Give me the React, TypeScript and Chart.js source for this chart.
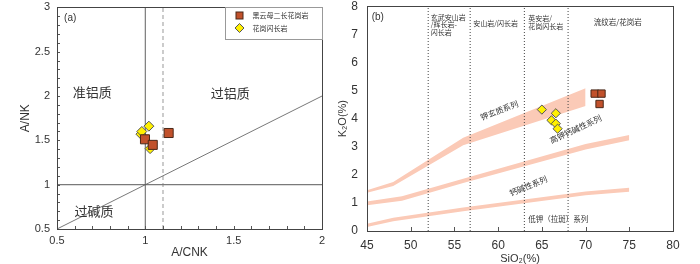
import React, { useEffect, useRef } from 'react';
import { Chart, registerables } from 'chart.js';
Chart.register(...registerables);

const CJK = '"Noto Sans CJK SC", "Noto Sans", sans-serif';
const SANS = '"Liberation Sans", Arial, sans-serif';
const TXT = '#333333';

// ---------- Panel (a): A/CNK vs A/NK ----------
const seriesNames = ['黑云母二长花岗岩', '花岗闪长岩'];
const aXRange = [0.5, 2];
const aYRange = [0.5, 3];
const aMinorStep = 0.1;
const aMonzoACNK = [0.998, 1.042, 1.132];
const aMonzoANK = [1.512, 1.449, 1.583];
const aGranoACNK = [0.975, 0.98, 1.02, 1.027];
const aGranoANK = [1.57, 1.6, 1.66, 1.407];
const aDiagonal = [0.5, 2]; // A/NK = A/CNK
const aSolidACNK = 1;
const aSolidANK = 1;
const aDashedACNK = 1.1;
const aLabels = [
  { t: ['(a)'], x: 0.54, y: 2.88, size: 10, align: 'left', font: SANS },
  { t: ['准铝质'], x: 0.70, y: 2.045, size: 13 },
  { t: ['过铝质'], x: 1.48, y: 2.03, size: 13 },
  { t: ['过碱质'], x: 0.71, y: 0.70, size: 13 },
];

// ---------- Panel (b): SiO2 vs K2O ----------
const bXRange = [45, 80];
const bYRange = [0, 8];
const bXStep = 5;
const bYStep = 1;
const bMonzoSiO2 = [71.04, 71.82, 71.6];
const bMonzoK2O = [4.89, 4.89, 4.52];
const bGranoSiO2 = [65.0, 66.6, 66.1, 66.6, 66.8];
const bGranoK2O = [4.32, 4.19, 3.94, 3.82, 3.64];
const bDivisions = [52, 56.8, 63, 68];
const band1X = [45, 48, 56, 70];
const band1Upper = [1.45, 1.74, 3.32, 5.08];
const band1Lower = [1.36, 1.6, 3.05, 4.45];
const band2X = [45, 49, 56, 70, 75];
const band2Upper = [1.05, 1.24, 1.86, 3.1, 3.42];
const band2Lower = [0.92, 1.08, 1.71, 2.9, 3.23];
const band3X = [45, 48, 56, 70, 75];
const band3Upper = [0.26, 0.47, 0.84, 1.41, 1.54];
const band3Lower = [0.14, 0.35, 0.7, 1.27, 1.4];
const bLabels = [
  { t: ['(b)'], x: 45.54, y: 7.61, size: 10, align: 'left', font: SANS },
  { t: ['玄武安山岩', '/辉长岩-', '闪长岩'], x: 52.28, y: 7.61, size: 7, align: 'left', lh: 0.265 },
  { t: ['安山岩/闪长岩'], x: 57.16, y: 7.39, size: 7, align: 'left' },
  { t: ['英安岩/', '花岗闪长岩'], x: 63.45, y: 7.58, size: 7, align: 'left', lh: 0.3 },
  { t: ['流纹岩/花岗岩'], x: 73.69, y: 7.44, size: 7.5 },
  { t: ['钾玄质系列'], x: 60.13, y: 4.29, size: 8, rot: -21 },
  { t: ['高钾钙碱性系列'], x: 68.87, y: 3.62, size: 8, rot: -25 },
  { t: ['钙碱性系列'], x: 63.45, y: 1.6, size: 8, rot: -22 },
  { t: ['低钾（拉斑）系列'], x: 66.88, y: 0.41, size: 7.5 },
];

const MONZO_FILL = '#c1512b';
const MONZO_EDGE = '#4a2818';
const GRANO_FILL = '#fff000';
const GRANO_EDGE = '#555555';
const BAND = '#fbcab7';

const pts = (xs: number[], ys: number[]) => xs.map((x, i) => ({ x, y: ys[i] }));

const textPlugin = (items: any[]) => ({
  id: 'textLabels',
  afterDatasetsDraw(chart: any) {
    const { ctx, scales } = chart;
    for (const l of items) {
      ctx.save();
      const px = scales.x.getPixelForValue(l.x);
      const py = scales.y.getPixelForValue(l.y);
      ctx.translate(px, py);
      ctx.rotate(((l.rot || 0) * Math.PI) / 180);
      ctx.font = `${l.size}px ${l.font || CJK}`;
      ctx.fillStyle = TXT;
      ctx.textAlign = l.align || 'center';
      ctx.textBaseline = 'middle';
      const step = l.lh ? scales.y.getPixelForValue(0) - scales.y.getPixelForValue(l.lh) : 0;
      l.t.forEach((s: string, i: number) => ctx.fillText(s, 0, i * step));
      ctx.restore();
    }
  },
});

const framePlugin = (tickLen: number, axes: string[]) => ({
  id: 'frameTicks',
  afterDatasetsDraw(chart: any) {
    const { ctx, chartArea: a, scales } = chart;
    ctx.save();
    ctx.strokeStyle = '#555';
    ctx.lineWidth = 1;
    ctx.beginPath();
    if (axes.includes('x')) {
      for (const t of scales.x.ticks) {
        const p = Math.round(scales.x.getPixelForValue(t.value)) + 0.5;
        ctx.moveTo(p, a.bottom);
        ctx.lineTo(p, a.bottom - tickLen);
      }
    }
    if (axes.includes('y')) {
      for (const t of scales.y.ticks) {
        const p = Math.round(scales.y.getPixelForValue(t.value)) + 0.5;
        ctx.moveTo(a.left, p);
        ctx.lineTo(a.left + tickLen, p);
      }
    }
    ctx.stroke();
    ctx.strokeStyle = '#444';
    ctx.strokeRect(Math.round(a.left) + 0.5, Math.round(a.top) + 0.5, Math.round(a.right - a.left), Math.round(a.bottom - a.top));
    ctx.restore();
  },
});

const legendPlugin = {
  id: 'boxLegend',
  afterDatasetsDraw(chart: any) {
    const { ctx, chartArea: a } = chart;
    const r = Math.round(a.right) + 0.5;
    const t = Math.round(a.top) + 0.5;
    const w = 97;
    const h = 32;
    ctx.save();
    ctx.fillStyle = '#fff';
    ctx.fillRect(r - w, t, w, h);
    ctx.strokeStyle = '#999';
    ctx.lineWidth = 1;
    ctx.strokeRect(r - w, t, w, h);
    // square
    const mx = r - 83;
    ctx.fillStyle = MONZO_FILL;
    ctx.strokeStyle = MONZO_EDGE;
    ctx.fillRect(mx - 3.5, t + 8 - 3.5, 7, 7);
    ctx.strokeRect(mx - 3.5, t + 8 - 3.5, 7, 7);
    // diamond
    const dy = t + 20.5;
    ctx.beginPath();
    ctx.moveTo(mx, dy - 4.5);
    ctx.lineTo(mx + 4.5, dy);
    ctx.lineTo(mx, dy + 4.5);
    ctx.lineTo(mx - 4.5, dy);
    ctx.closePath();
    ctx.fillStyle = GRANO_FILL;
    ctx.fill();
    ctx.strokeStyle = GRANO_EDGE;
    ctx.stroke();
    ctx.fillStyle = TXT;
    ctx.font = `7px ${CJK}`;
    ctx.textAlign = 'left';
    ctx.textBaseline = 'middle';
    ctx.fillText(chart.data.datasets[0].label, r - 70, t + 8);
    ctx.fillText(chart.data.datasets[1].label, r - 70, dy);
    ctx.restore();
  },
};

const lineDs = (data: any[], color: string, width: number, dash: number[] = [], order = 5) => ({
  type: 'line',
  data,
  borderColor: color,
  borderWidth: width,
  borderDash: dash,
  pointRadius: 0,
  fill: false,
  tension: 0,
  order,
});

const scatterDs = (label: string, data: any[], style: string, radius: number, fill: string, edge: string, order: number) => ({
  type: 'line',
  label,
  data,
  showLine: false,
  pointStyle: style,
  pointRadius: radius,
  pointBackgroundColor: fill,
  pointBorderColor: edge,
  pointBorderWidth: 1,
  order,
});

function makeChartA(canvas: HTMLCanvasElement) {
  const datasets: any[] = [
    scatterDs(seriesNames[0], pts(aMonzoACNK, aMonzoANK), 'rect', 6.4, MONZO_FILL, MONZO_EDGE, 0),
    scatterDs(seriesNames[1], pts(aGranoACNK, aGranoANK), 'rectRot', 5, GRANO_FILL, GRANO_EDGE, 1),
    lineDs(pts(aDiagonal, aDiagonal), '#555', 0.8),
    lineDs([{ x: aSolidACNK, y: aYRange[0] }, { x: aSolidACNK, y: aYRange[1] }], '#7a7a7a', 1.2),
    lineDs([{ x: aXRange[0], y: aSolidANK }, { x: aXRange[1], y: aSolidANK }], '#7a7a7a', 1.2),
    lineDs([{ x: aDashedACNK, y: aYRange[0] }, { x: aDashedACNK, y: aYRange[1] }], '#b0b0b0', 1.3, [4, 3]),
  ];
  const isMajor = (v: number) => Math.abs(v * 2 - Math.round(v * 2)) < 1e-6;
  return new Chart(canvas, {
    type: 'line',
    data: { datasets },
    options: {
      animation: false,
      responsive: false,
      layout: { padding: { left: 0, right: 14, top: 5, bottom: 0 } },
      plugins: { legend: { display: false }, tooltip: { enabled: false } },
      scales: {
        x: {
          type: 'linear',
          min: aXRange[0],
          max: aXRange[1],
          afterFit: (s: any) => { s.height = 35; },
          grid: { display: false, drawTicks: true, tickLength: 5 },
          border: { display: false },
          ticks: {
            stepSize: aMinorStep,
            autoSkip: false,
            maxRotation: 0,
            padding: 0,
            color: TXT,
            font: { size: 11, family: SANS },
            callback: (v: any) => (isMajor(v) ? String(+Number(v).toFixed(1)) : ''),
          },
          title: { display: true, text: 'A/CNK', color: TXT, font: { size: 12, family: SANS }, padding: { top: 0, bottom: 4 } },
        },
        y: {
          type: 'linear',
          min: aYRange[0],
          max: aYRange[1],
          afterFit: (s: any) => { s.width = 57; },
          grid: { display: false, drawTicks: true, tickLength: 7 },
          border: { display: false },
          ticks: {
            stepSize: aMinorStep,
            autoSkip: false,
            padding: 0,
            color: TXT,
            font: { size: 11, family: SANS, lineHeight: 1 },
            callback: (v: any) => (isMajor(v) ? String(+Number(v).toFixed(1)) : ''),
          },
          title: { display: true, text: 'A/NK', color: TXT, font: { size: 12, family: SANS }, padding: { top: 18, bottom: 0 } },
        },
      },
    },
    plugins: [framePlugin(3, ['x', 'y']), textPlugin(aLabels), legendPlugin],
  } as any);
}

function makeChartB(canvas: HTMLCanvasElement) {
  const bandDs = (xs: number[], up: number[], lo: number[]) => [
    { ...lineDs(pts(xs, up), 'rgba(0,0,0,0)', 0, [], 10), fill: '+1', backgroundColor: BAND },
    lineDs(pts(xs, lo), 'rgba(0,0,0,0)', 0, [], 10),
  ];
  const datasets: any[] = [
    scatterDs(seriesNames[0], pts(bMonzoSiO2, bMonzoK2O), 'rect', 5.2, MONZO_FILL, MONZO_EDGE, 0),
    scatterDs(seriesNames[1], pts(bGranoSiO2, bGranoK2O), 'rectRot', 4.6, GRANO_FILL, GRANO_EDGE, 1),
    ...bandDs(band1X, band1Upper, band1Lower),
    ...bandDs(band2X, band2Upper, band2Lower),
    ...bandDs(band3X, band3Upper, band3Lower),
    ...bDivisions.map((d) => lineDs([{ x: d, y: bYRange[0] }, { x: d, y: bYRange[1] }], '#444', 1, [1, 2])),
  ];
  return new Chart(canvas, {
    type: 'line',
    data: { datasets },
    options: {
      animation: false,
      responsive: false,
      layout: { padding: { left: 0, right: 27, top: 4, bottom: 0 } },
      plugins: { legend: { display: false }, tooltip: { enabled: false } },
      scales: {
        x: {
          type: 'linear',
          min: bXRange[0],
          max: bXRange[1],
          afterFit: (s: any) => { s.height = 33; },
          grid: { display: false, drawTicks: true, tickLength: 7 },
          border: { display: false },
          ticks: { stepSize: bXStep, autoSkip: false, maxRotation: 0, padding: 0, color: TXT, font: { size: 12, family: SANS } },
          title: { display: true, text: 'SiO₂(%)', color: TXT, font: { size: 11, family: SANS, lineHeight: 1 }, padding: { top: 0, bottom: 0 } },
        },
        y: {
          type: 'linear',
          min: bYRange[0],
          max: bYRange[1],
          afterFit: (s: any) => { s.width = 31; },
          grid: { display: false, drawTicks: true, tickLength: 9 },
          border: { display: false },
          ticks: { stepSize: bYStep, autoSkip: false, padding: 0, color: TXT, font: { size: 12, family: SANS, lineHeight: 0.7 } },
          title: { display: true, text: 'K₂O(%)', color: TXT, font: { size: 11, family: SANS }, padding: { top: 0, bottom: 0 } },
        },
      },
    },
    plugins: [framePlugin(4, ['x']), textPlugin(bLabels)],
  } as any);
}

export default function App() {
  const refA = useRef<HTMLCanvasElement>(null);
  const refB = useRef<HTMLCanvasElement>(null);
  useEffect(() => {
    const a = makeChartA(refA.current!);
    const b = makeChartB(refB.current!);
    return () => {
      a.destroy();
      b.destroy();
    };
  }, []);
  return (
    <div style={{ position: 'fixed', left: 0, top: 0, width: 700, height: 264, background: '#fff' }}>
      <canvas ref={refA} width={336} height={264} style={{ position: 'absolute', left: 0, top: 0, width: 336, height: 264 }} />
      <canvas ref={refB} width={364} height={264} style={{ position: 'absolute', left: 336, top: 0, width: 364, height: 264 }} />
    </div>
  );
}
